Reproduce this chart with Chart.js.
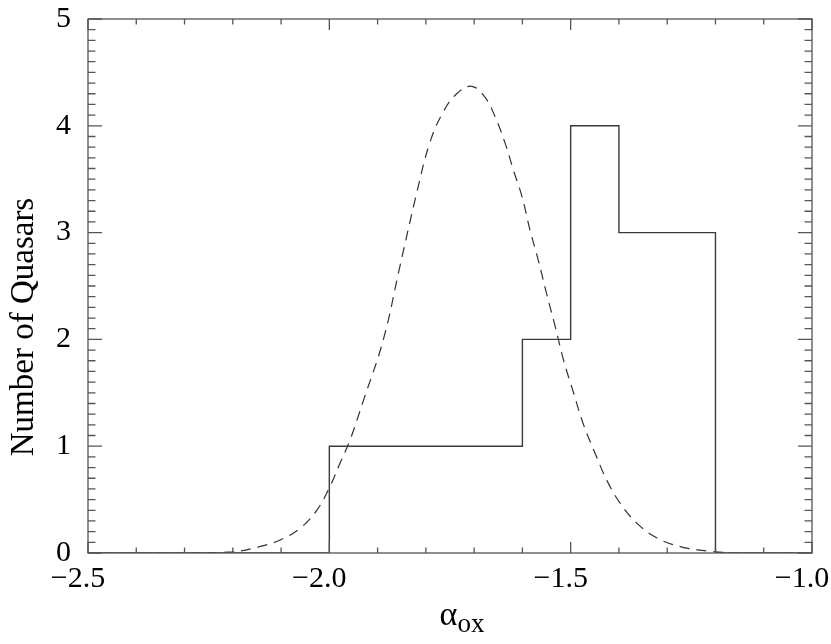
<!DOCTYPE html>
<html lang="en">
<head>
<meta charset="UTF-8">
<title>alpha_ox distribution</title>
<script src="https://cdn.jsdelivr.net/npm/chart.js"></script>
<style>
  html, body { margin: 0; padding: 0; background: #fff; }
  #box { width: 831px; height: 644px; }
</style>
</head>
<body>
<div id="box"><canvas id="aoxChart"></canvas></div>
<script>
// histogram: left edge of each 0.1-wide bin and its count
const binStarts = [-2.0, -1.9, -1.8, -1.7, -1.6, -1.5, -1.4, -1.3];
const binCounts = [1, 1, 1, 1, 2, 4, 3, 3];
const binWidth = 0.1;

// dashed curve, values
const curveX = [-2.500, -2.300, -2.201, -2.144, -2.103, -2.061, -2.026, -2.000, -1.978, -1.957,
  -1.930, -1.888, -1.854, -1.819, -1.792, -1.764, -1.736, -1.705, -1.678, -1.657,
  -1.636, -1.619, -1.601, -1.584, -1.567, -1.550, -1.532, -1.515, -1.494, -1.474,
  -1.449, -1.425, -1.398, -1.363, -1.321, -1.273, -1.218, -1.150, -1.000];
const curveY = [0, 0, 0.01, 0.06, 0.12, 0.23, 0.40, 0.61, 0.84, 1.06,
  1.42, 2.00, 2.68, 3.37, 3.84, 4.13, 4.30, 4.37, 4.27, 4.09,
  3.84, 3.59, 3.34, 3.02, 2.74, 2.43, 2.12, 1.81, 1.50, 1.21,
  0.93, 0.68, 0.47, 0.28, 0.14, 0.06, 0.02, 0, 0];

const xMin = -2.5, xMax = -1.0;
const yMin = 0, yMax = 5;

const serif = "'Liberation Serif', 'Times New Roman', serif";
const axisColor = '#555';

// build stepped outline from the bins
const histPoints = [{ x: xMin, y: 0 }];
binStarts.forEach((s, i) => histPoints.push({ x: s, y: binCounts[i] }));
histPoints.push({ x: binStarts[binStarts.length - 1] + binWidth, y: 0 });
histPoints.push({ x: xMax, y: 0 });

const curvePoints = curveX.map((x, i) => ({ x, y: curveY[i] }));

const minus = v => (v < 0 ? '\u2212' : '') + Math.abs(v).toFixed(1);

// box frame with inward ticks on all four sides, plus axis titles
const frame = {
  id: 'frame',
  afterDatasetsDraw(chart) {
    const { ctx, chartArea: a, scales: { x, y } } = chart;
    ctx.save();
    ctx.strokeStyle = axisColor;
    ctx.lineWidth = 1.3;
    ctx.strokeRect(a.left, a.top, a.right - a.left, a.bottom - a.top);
    ctx.beginPath();
    for (let i = 0; i <= 15; i++) {
      const px = x.getPixelForValue(xMin + i * 0.1);
      const len = i % 5 === 0 ? 11 : 5.5;
      ctx.moveTo(px, a.bottom); ctx.lineTo(px, a.bottom - len);
      ctx.moveTo(px, a.top); ctx.lineTo(px, a.top + len);
    }
    for (let i = 0; i <= 50; i++) {
      const py = y.getPixelForValue(yMin + i * 0.1);
      const len = i % 10 === 0 ? 14 : 7.5;
      ctx.moveTo(a.left, py); ctx.lineTo(a.left + len, py);
      ctx.moveTo(a.right, py); ctx.lineTo(a.right - len, py);
    }
    ctx.stroke();
    ctx.restore();
  },
  afterDraw(chart) {
    const { ctx } = chart;
    ctx.save();
    ctx.fillStyle = '#000';
    // y title
    ctx.translate(33, 327);
    ctx.rotate(-Math.PI / 2);
    ctx.font = '33px ' + serif;
    ctx.textAlign = 'center';
    ctx.textBaseline = 'alphabetic';
    ctx.fillText('Number of Quasars', 0, 0);
    ctx.restore();
    // x title: alpha with subscript ox
    ctx.save();
    ctx.fillStyle = '#000';
    ctx.textBaseline = 'alphabetic';
    ctx.textAlign = 'left';
    ctx.font = '34px ' + serif;
    const wA = ctx.measureText('\u03b1').width;
    ctx.font = '27px ' + serif;
    const wS = ctx.measureText('ox').width;
    const x0 = 462 - (wA + wS) / 2;
    ctx.font = '34px ' + serif;
    ctx.fillText('\u03b1', x0, 625);
    ctx.font = '27px ' + serif;
    ctx.fillText('ox', x0 + wA, 632);
    ctx.restore();
  }
};

new Chart(document.getElementById('aoxChart'), {
  type: 'line',
  data: {
    datasets: [
      {
        label: 'Histogram',
        data: histPoints,
        stepped: 'before',
        borderColor: '#3a3a3a',
        borderWidth: 1.4,
        pointRadius: 0,
        fill: false
      },
      {
        label: 'Curve',
        data: curvePoints,
        borderColor: '#333',
        borderWidth: 1.2,
        borderDash: [10, 7],
        pointRadius: 0,
        tension: 0.4,
        fill: false
      }
    ]
  },
  options: {
    responsive: true,
    maintainAspectRatio: false,
    animation: false,
    layout: { padding: { left: 0, top: 19, right: 19, bottom: 0 } },
    plugins: {
      legend: { display: false },
      tooltip: { enabled: false }
    },
    scales: {
      x: {
        type: 'linear',
        min: xMin,
        max: xMax,
        grid: { display: false, drawTicks: false },
        border: { display: false },
        ticks: {
          stepSize: 0.5,
          padding: 8,
          labelOffset: -10,
          maxRotation: 0,
          color: '#000',
          font: { family: serif, size: 30 },
          callback: v => minus(v)
        },
        afterFit: s => { s.height = 91; s.paddingLeft = 0; s.paddingRight = 0; }
      },
      y: {
        min: yMin,
        max: yMax,
        grid: { display: false, drawTicks: false },
        border: { display: false },
        ticks: {
          stepSize: 1,
          padding: 17,
          color: '#000',
          font: { family: serif, size: 30 }
        },
        afterFit: s => { s.width = 88; s.paddingTop = 0; s.paddingBottom = 0; }
      }
    }
  },
  plugins: [frame]
});
</script>
</body>
</html>
